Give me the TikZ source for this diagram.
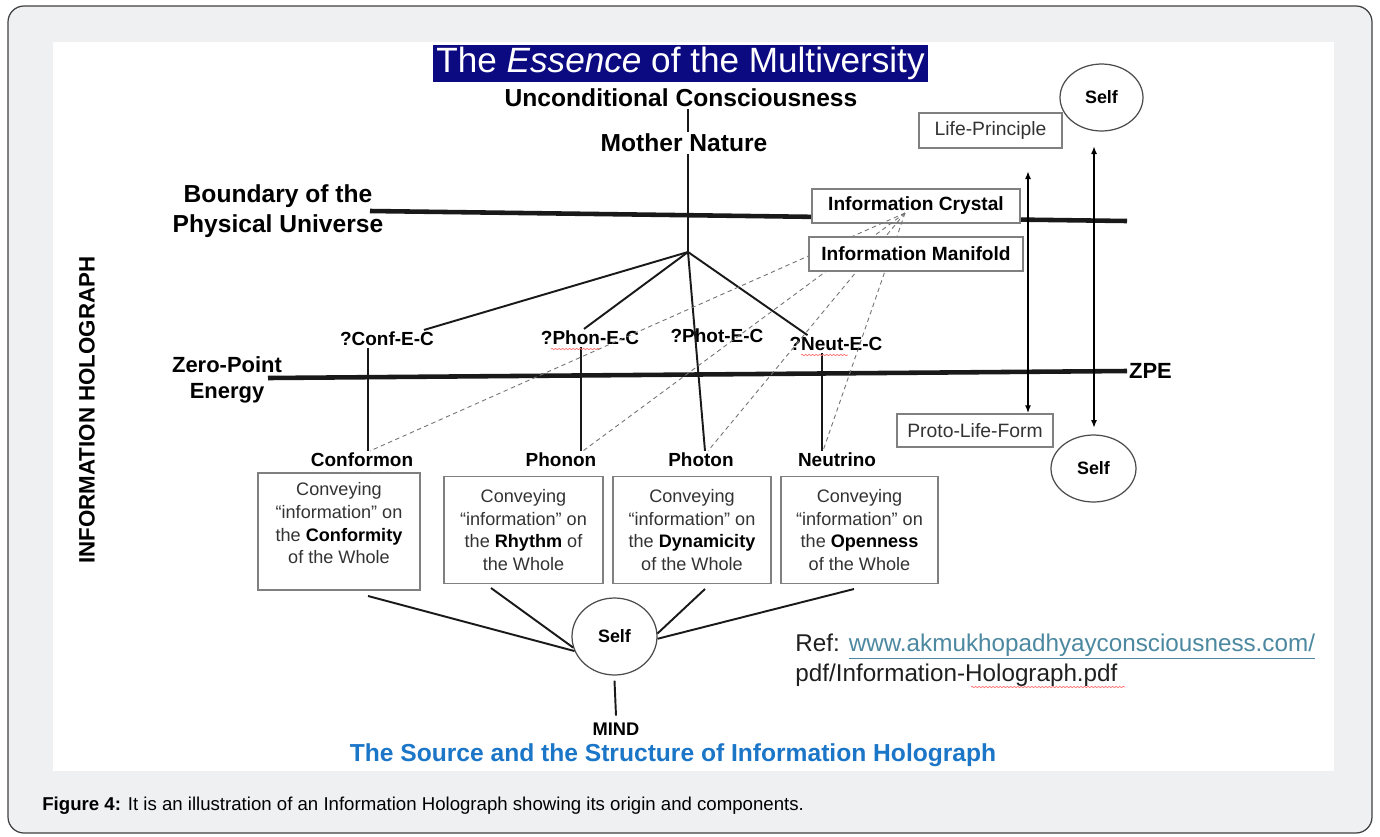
\documentclass[tikz,border=0pt]{standalone}
\usepackage{fontspec}
\setmainfont{Liberation Sans}
\usetikzlibrary{shapes.geometric,arrows.meta,decorations.pathmorphing}
\definecolor{framebg}{RGB}{239,240,242}
\definecolor{titlenavy}{RGB}{12,10,128}
\definecolor{srcblue}{RGB}{28,118,200}
\definecolor{urlteal}{RGB}{76,136,160}
\definecolor{boxgray}{RGB}{128,128,128}
\newcommand{\boldword}[1]{\textbf{\textcolor{black}{#1}}}
\tikzset{
	biglbl/.style={font=\fontsize{14}{17}\selectfont\bfseries, inner sep=1pt, align=center},
	zpelbl/.style={font=\fontsize{12.5}{14.7}\selectfont\bfseries, inner sep=1pt, align=center},
	eclbl/.style={font=\fontsize{10.8}{13}\selectfont\bfseries, inner sep=1pt},
	infobox/.style={draw=boxgray, fill=white, line width=0.8pt, font=\fontsize{10.9}{13}\selectfont\bfseries, inner sep=0pt},
	lifebox/.style={draw=boxgray, fill=white, line width=0.8pt, font=\fontsize{11}{13}\selectfont, text=black!80, inner sep=0pt},
	convtext/.style={align=center, inner sep=0pt, font=\fontsize{10.3}{13}\selectfont, text=black!80},
	convbox/.style={convtext, draw=boxgray, line width=0.8pt, minimum height=2.14cm},
	selfnode/.style={draw=black!70, ellipse, line width=0.7pt, inner sep=0pt, font=\fontsize{10.2}{12}\selectfont\bfseries},
	bar/.style={line width=2.6pt, black!90},
	stem/.style={line width=1.1pt, black!90},
	infodash/.style={black!55, line width=0.5pt, dash pattern=on 2.5pt off 2pt},
	twoway/.style={{Latex[length=1.6mm,width=1.2mm]}-{Latex[length=1.6mm,width=1.2mm]}, line width=0.9pt},
	spellmark/.style={red!55, line width=0.4pt, decorate, decoration={snake, amplitude=0.4pt, segment length=2pt}}
}
\begin{document}
\begin{tikzpicture}[x=0.02cm,y=-0.02cm]
	\useasboundingbox (0,0) rectangle (1380,836);
	\draw[fill=framebg, draw=black!75, line width=0.7pt, rounded corners=0.32cm] (8,6) rectangle (1372,833);
	\fill[white] (53,42) rectangle (1334,771);

	\node[fill=titlenavy, text=white, minimum width=9.9cm, minimum height=0.74cm, inner sep=0pt, font=\fontsize{20}{22}\selectfont] (essence) at (680.5,63.5) {The \textit{Essence} of the Multiversity};
	\node[biglbl] (uncond) at (681,98) {Unconditional Consciousness};
	\node[biglbl] (mother) at (684,143) {Mother Nature};
	\coordinate (hub) at (688,252);
	\draw[stem] (uncond.south -| hub) -- (mother.north -| hub);
	\draw[stem] (mother.south -| hub) -- (hub);

	\node[biglbl] (boundary) at (278,211) {Boundary of the\\Physical Universe};
	\coordinate (bndW) at (370,211);
	\coordinate (bndE) at (1127,221);
	\draw[bar] (bndW) -- (bndE);

	\node[zpelbl] (zeropt) at (227,380) {Zero-Point\\Energy};
	\node[zpelbl, anchor=west] (zpe) at (1127,371) {ZPE};
	\coordinate (zpeW) at (268,378);
	\draw[bar] (zpeW) -- (zpe.west);

	\node[eclbl] (confec) at (387,339) {?Conf-E-C};
	\node[eclbl] (phonec) at (590,338) {?Phon-E-C};
	\node[eclbl] (photec) at (717,336) {?Phot-E-C};
	\node[eclbl] (neutec) at (836,344) {?Neut-E-C};
	\node[eclbl] (conformon) at (362,460) {Conformon};
	\node[eclbl] (phonon) at (561,460) {Phonon};
	\node[eclbl] (photon) at (701,460) {Photon};
	\node[eclbl] (neutrino) at (837,460) {Neutrino};

	\draw[stem] (hub) -- ([xshift=-0.24cm]confec.north east);
	\draw[stem] (hub) -- ([xshift=-0.12cm]phonec.north);
	\draw[stem] (hub) -- ([xshift=0.08cm]photon.north);
	\draw[stem] (hub) -- ([xshift=0.4cm]neutec.north west);
	\draw[stem] ([xshift=-0.38cm]confec.south) -- ([xshift=-0.38cm]confec.south |- conformon.north);
	\draw[stem] ([xshift=-0.18cm]phonec.south) -- ([xshift=-0.18cm]phonec.south |- phonon.north);
	\draw[stem] ([xshift=-0.28cm]neutec.south) -- ([xshift=-0.28cm]neutec.south |- neutrino.north);

	\node[infobox, minimum width=4.16cm, minimum height=0.68cm] (crystal) at (916,206) {Information Crystal};
	\coordinate (crystalsrc) at (905,213);
	\draw[infodash] (crystalsrc) -- ([xshift=0.16cm]conformon.north);
	\draw[infodash] (crystalsrc) -- ([xshift=0.44cm]phonon.north);
	\draw[infodash] (crystalsrc) -- ([xshift=0.14cm]photon.north);
	\draw[infodash] (crystalsrc) -- ([xshift=-0.28cm]neutrino.north);
	\node[infobox, minimum width=4.28cm, minimum height=0.68cm] (manifold) at (916,254) {Information Manifold};

	\node[lifebox, minimum width=2.86cm, minimum height=0.7cm] (life) at (990.5,130.5) {Life-Principle};
	\node[lifebox, minimum width=3.12cm, minimum height=0.66cm] (proto) at (975,430.5) {Proto-Life-Form};
	\node[selfnode, minimum width=1.66cm, minimum height=1.34cm] (selftop) at (1101.5,97.5) {Self};
	\node[selfnode, minimum width=1.7cm, minimum height=1.34cm] (selflow) at (1093.5,468.5) {Self};
	\coordinate (lifearrow) at (1028,171);
	\draw[twoway] (lifearrow) -- (lifearrow |- proto.north);
	\coordinate (selfarrowtop) at (1094,146);
	\coordinate (selfarrowbot) at (1094,428);
	\draw[twoway] (selfarrowtop) -- (selfarrowbot);

	\node[convbox, minimum width=3.24cm, minimum height=2.34cm] (convconf) at (339,531.5) {};
	\node[convtext, anchor=north] (convconftext) at (339,482) {Conveying\\“information” on\\the \boldword{Conformity}\\of the Whole};
	\node[convbox, minimum width=3.18cm] (convphon) at (523.5,530) {Conveying\\“information” on\\the \boldword{Rhythm} of\\the Whole};
	\node[convbox, minimum width=3.16cm] (convphot) at (692,530) {Conveying\\“information” on\\the \boldword{Dynamicity}\\of the Whole};
	\node[convbox, minimum width=3.14cm] (convneut) at (859.5,530) {Conveying\\“information” on\\the \boldword{Openness}\\of the Whole};

	\node[selfnode, minimum width=1.7cm, minimum height=1.54cm] (selfmind) at (614.5,636.5) {Self};
	\coordinate (leg1) at (368,596);
	\coordinate (leg2) at (491,588);
	\coordinate (leg3) at (705,589);
	\coordinate (leg4) at (854,589);
	\draw[stem] (leg1) -- (selfmind.200);
	\draw[stem] (leg2) -- (selfmind.195);
	\draw[stem] (leg3) -- (selfmind.4);
	\draw[stem] (leg4) -- (selfmind.357);
	\node[font=\fontsize{10.4}{12}\selectfont\bfseries, inner sep=1pt] (mind) at (616,729) {MIND};
	\draw[stem] ([yshift=-0.1cm]selfmind.south) -- ([yshift=0.1cm]mind.north);

	\node[font=\fontsize{14}{17}\selectfont\bfseries, text=srcblue, inner sep=1pt] (source) at (673,755) {The Source and the Structure of Information Holograph};
	\node[font=\fontsize{13.8}{17}\selectfont, anchor=west, align=left, inner sep=0pt, text=black!88] (ref) at (795,660) {Ref: \textcolor{urlteal}{\underline{www.akmukhopadhyayconsciousness.com/}}\\pdf/Information-Holograph.pdf};
	\node[rotate=90, font=\fontsize{12.7}{15}\selectfont\bfseries, inner sep=1pt] (holograph) at (87,410) {INFORMATION HOLOGRAPH};

	\draw[spellmark] (551,349) -- (600,349);
	\draw[spellmark] (801,355) -- (848,355);
	\draw[spellmark] (971,687) -- (1125,687);

	\node[anchor=west, font=\fontsize{10.6}{13}\selectfont, inner sep=0pt] (caption) at (42,806) {\textbf{Figure 4:} It is an illustration of an Information Holograph showing its origin and components.};
\end{tikzpicture}
\end{document}
